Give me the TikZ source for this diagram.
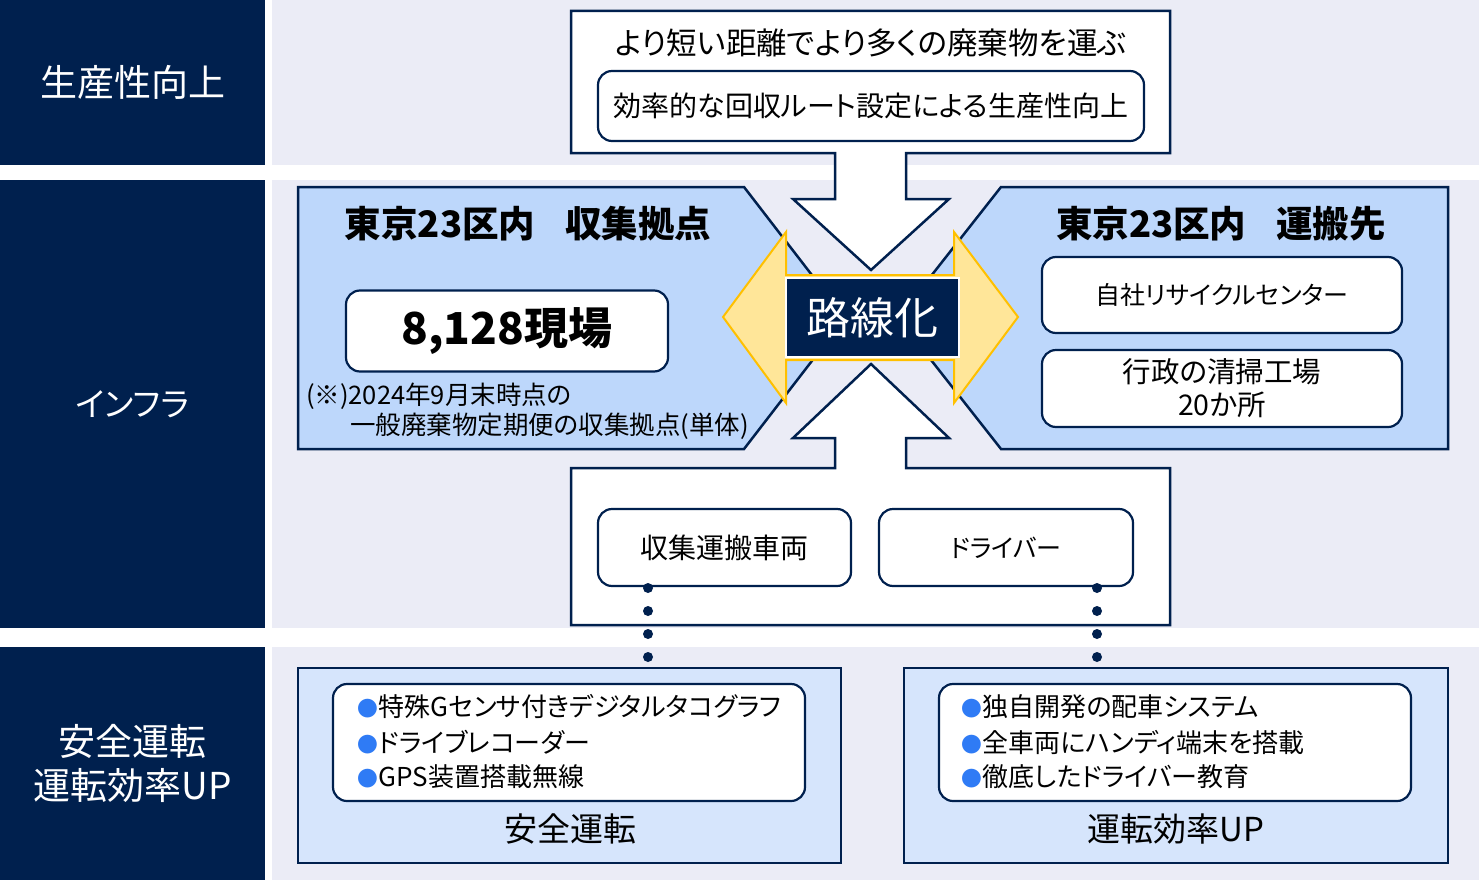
\documentclass[tikz,border=0pt]{standalone}
\usepackage{fontspec}
\setmainfont{Noto Sans CJK JP}[RawFeature=+palt]
\definecolor{navy}{RGB}{0,32,78}
\definecolor{bandgray}{RGB}{235,236,246}
\definecolor{paleblue}{RGB}{189,215,251}
\definecolor{lightblue}{RGB}{214,229,252}
\definecolor{yfill}{RGB}{255,230,153}
\definecolor{ydraw}{RGB}{255,192,0}
\definecolor{bulletblue}{RGB}{47,123,245}
\newcommand\fsz[2]{\fontsize{#1}{#2}\selectfont}
\newcommand\bul{\textcolor{bulletblue}{\scalebox{0.8}{●}}\hspace{1pt}}
\tikzset{
  every node/.style={inner sep=0pt, outer sep=0pt},
  navylab/.style={fill=navy, text=white, font=\fsz{37}{44}, align=center},
  outline/.style={draw=navy, line width=2.5pt, line join=miter},
  rbox/.style={draw=navy, line width=2.2pt, fill=white, rounded corners=14pt, align=center},
  penta/.style={outline, fill=paleblue},
  lowbox/.style={outline, fill=lightblue},
  dotline/.style={navy, line width=10pt, line cap=round, dash pattern=on 0pt off 23pt},
  listline/.style={anchor=west, font=\fsz{26}{30}},
}
\begin{document}
\begin{tikzpicture}[x=1pt,y=-1pt]
\useasboundingbox (0,0) rectangle (1479,880);
\fill[white] (0,0) rectangle (1479,880);
% bands
\fill[bandgray] (272,0) rectangle (1479,165);
\fill[bandgray] (272,180) rectangle (1479,628);
\fill[bandgray] (272,647) rectangle (1479,880);
% left labels
\node[navylab, minimum width=265, minimum height=165] (lab1) at (132.5,82.5) {生産性向上};
\node[navylab, minimum width=265, minimum height=448, font=\fsz{33}{40}] (lab2) at (132.5,404) {インフラ};
\node[navylab, minimum width=265, minimum height=233] (lab3) at (132.5,763.5) {安全運転\\運転効率UP};
% top box with down arrow
\draw[outline, fill=white] (571,11) -- (1170,11) -- (1170,153) -- (906,153) -- (906,199) -- (949,199)
  -- (871,270) -- (793,199) -- (835,199) -- (835,153) -- (571,153) -- cycle;
\node[font=\fsz{30.5}{36}] (title) at (871,43) {より短い距離でより多くの廃棄物を運ぶ};
\node[rbox, minimum width=546, minimum height=70, font=\fsz{28}{34}] (topin) at (871,106) {効率的な回収ルート設定による生産性向上};
% bottom box with up arrow
\draw[outline, fill=white] (571,625) -- (1170,625) -- (1170,468) -- (906,468) -- (906,438) -- (949,438)
  -- (871,364) -- (793,438) -- (835,438) -- (835,468) -- (571,468) -- cycle;
\node[rbox, minimum width=253, minimum height=77, font=\fsz{28}{34}] (veh) at (724.5,547.5) {収集運搬車両};
\node[rbox, minimum width=254, minimum height=77, font=\fsz{25}{30}] (drv) at (1006,547.5) {ドライバー};
% pentagons
\draw[penta] (298,187) -- (744,187) -- (845,318) -- (744,449) -- (298,449) -- cycle;
\draw[penta] (1448,187) -- (1001,187) -- (898,318) -- (1001,449) -- (1448,449) -- cycle;
\node[font=\bfseries\fsz{36.5}{42}] (ltitle) at (528,224) {東京23区内\hspace{30pt}収集拠点};
\node[rbox, minimum width=322, minimum height=81, font=\bfseries\fsz{44}{50}] (sites) at (507,331) {8,128現場};
\node[anchor=west, font=\fsz{25.5}{30}] (note1) at (306,396) {(※)2024年9月末時点の};
\node[anchor=east, font=\fsz{25.5}{30}] (note2) at (749,426) {一般廃棄物定期便の収集拠点(単体)};
\node[font=\bfseries\fsz{36.5}{42}] (rtitle) at (1221,224) {東京23区内\hspace{30pt}運搬先};
\node[rbox, minimum width=360, minimum height=76, font=\fsz{25}{30}] (rb1) at (1222,295) {自社リサイクルセンター};
\node[rbox, minimum width=360, minimum height=77, font=\fsz{28.5}{33}] (rb2) at (1222,388.5) {行政の清掃工場\\20か所};
% yellow double arrow
\draw[draw=ydraw, fill=yfill, line width=2pt, line join=miter]
  (723,317) -- (786,232) -- (786,275) -- (954,275) -- (954,232) -- (1018,317)
  -- (954,403) -- (954,360) -- (786,360) -- (786,403) -- cycle;
\node[fill=navy, draw=white, line width=2.5pt, text=white, minimum width=173, minimum height=79, font=\fsz{44}{50}] (route) at (872.5,317.5) {路線化};
% bottom row
\node[lowbox, minimum width=543, minimum height=195] (safe) at (569.5,765.5) {};
\node[rbox, minimum width=472, minimum height=117] (safein) at (569,742.5) {};
\node[listline] (s1) at (357,707) {\bul 特殊Gセンサ付きデジタルタコグラフ};
\node[listline] (s2) at (357,742) {\bul ドライブレコーダー};
\node[listline] (s3) at (357,777) {\bul GPS装置搭載無線};
\node[font=\fsz{33}{38}] (safelab) at (570,829) {安全運転};
\node[lowbox, minimum width=544, minimum height=195] (eff) at (1176,765.5) {};
\node[rbox, minimum width=472, minimum height=117] (effin) at (1175,742.5) {};
\node[listline] (e1) at (961,707) {\bul 独自開発の配車システム};
\node[listline] (e2) at (961,742) {\bul 全車両にハンディ端末を搭載};
\node[listline] (e3) at (961,777) {\bul 徹底したドライバー教育};
\node[font=\fsz{33}{38}] (efflab) at (1176,829) {運転効率UP};
% dotted connectors
\coordinate (d1a) at (648,588);
\coordinate (d1b) at (648,658);
\coordinate (d2a) at (1097,588);
\coordinate (d2b) at (1097,658);
\draw[dotline] (d1a) -- (d1b);
\draw[dotline] (d2a) -- (d2b);
\end{tikzpicture}
\end{document}
